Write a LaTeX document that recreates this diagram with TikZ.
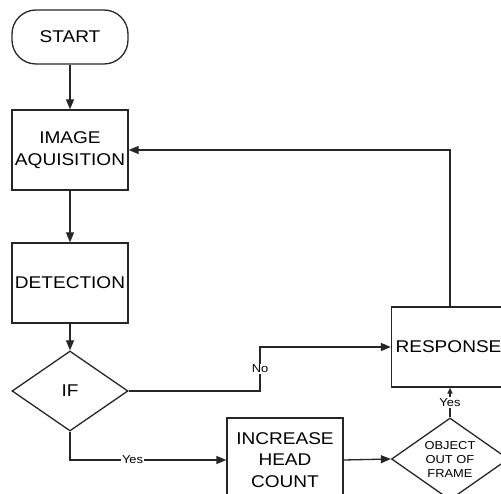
\documentclass[tikz,border=0pt]{standalone}
\usepackage{fontspec}
\setmainfont{Liberation Sans}[FakeStretch=1.12]
\usetikzlibrary{shapes.geometric,arrows.meta}
\definecolor{lc}{HTML}{262626}
\begin{document}
\begin{tikzpicture}[x=1pt,y=-1pt,
  every node/.style={text=black},
  box/.style={draw=lc, line width=1.3pt, rectangle, minimum width=116pt, minimum height=80pt, inner sep=0pt, align=center, font=\fontsize{17}{21.5}\selectfont},
  term/.style={box, minimum height=54pt, rounded corners=24pt},
  dec/.style={draw=lc, line width=1.3pt, diamond, aspect=1.45, minimum width=116pt, minimum height=80pt, inner sep=0pt, align=center},
  arr/.style={draw=lc, line width=1.3pt, -{Triangle[length=10pt,width=8pt]}},
  arrs/.style={draw=lc, line width=1.3pt, -{Triangle[length=6pt,width=5pt]}},
  lbl/.style={fill=white, inner sep=1pt, font=\fontsize{11.5}{13}\selectfont}
]
\useasboundingbox (0,0) rectangle (501,494);
\clip (0,0) rectangle (501,494);
\node[term] (start) at (70,37) {START};
\node[box] (img) at (70,150) {IMAGE\\AQUISITION};
\node[box] (det) at (70,283) {DETECTION};
\node[dec, font=\fontsize{17}{20}\selectfont] (if) at (70,391) {IF};
\node[box, minimum width=117pt] (resp) at (450,347) {\hspace*{-3pt}RESPONSE};
\node[box, minimum width=116pt, minimum height=84pt] (inc) at (285,460) {INCREASE\\HEAD\\COUNT};
\node[dec, minimum width=117pt, minimum height=82pt, font=\fontsize{11.5}{14}\selectfont] (obj) at (450,459) {OBJECT\\OUT OF\\FRAME};
\coordinate (nb) at (260,0);
\draw[arr] (start) -- (img);
\draw[arr] (img) -- (det);
\draw[arr] (det) -- (if);
\draw[arr] (if.east) -- (if.east -| nb) -- node[lbl]{No} (nb |- resp.west) -- (resp.west);
\draw[arr] (resp.north) -- (resp.north |- img.east) -- (img.east);
\draw[arr] (if.south) |- node[lbl, pos=0.7]{Yes} (inc.west);
\draw[arr] (inc.east) -- (obj.west);
\draw[arrs] (obj.north) -- node[lbl]{Yes} (resp.south);
\end{tikzpicture}
\end{document}
